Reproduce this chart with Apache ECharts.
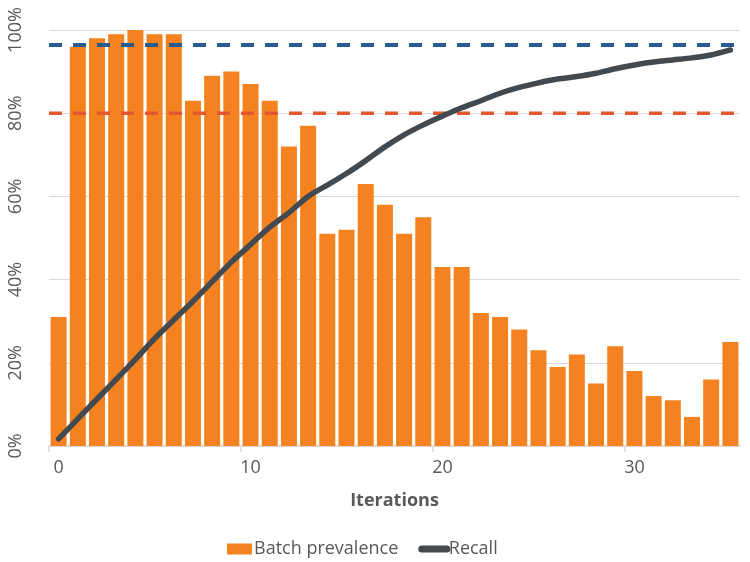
<!DOCTYPE html>
<html>
<head>
<meta charset="utf-8">
<script src="https://cdn.jsdelivr.net/npm/echarts@6/dist/echarts.min.js"></script>
<style>html,body{margin:0;padding:0;background:#fff}#c{width:750px;height:562px}</style>
</head>
<body>
<div id="c"></div>
<script>
// Iterations 0..35 (bars centred between integer ticks)
const iterations = [0,1,2,3,4,5,6,7,8,9,10,11,12,13,14,15,16,17,18,19,20,21,22,23,24,25,26,27,28,29,30,31,32,33,34,35];
// Batch prevalence (%)
const prevalence = [31,96,98,99,100,99,99,83,89,90,87,83,72,77,51,52,63,58,51,55,43,43,32,31,28,23,19,22,15,24,18,12,11,7,16,25];
// Recall (%)
const recall = [1.7,6.5,11.3,16,20.8,25.8,30.3,34.8,39.5,44.2,48.4,52.6,56.1,60.0,62.7,65.5,68.6,71.9,74.8,77.2,79.3,81.3,83.0,84.8,86.2,87.3,88.2,88.8,89.6,90.7,91.6,92.3,92.8,93.3,94.0,95.2];
// Reference thresholds (%)
const thresholdHigh = 96.4;
const thresholdLow = 80;
const xTicks = [0,10,20,30];

const font = '"Open Sans", "Noto Sans", sans-serif';
const grey = '#595959';

const chart = echarts.init(document.getElementById('c'), null, {renderer:'canvas'});
const barData = iterations.map((it,i)=>[it+0.5, prevalence[i]]);
const lineData = iterations.map((it,i)=>[it+0.5, recall[i]]);

chart.setOption({
  animation:false,
  textStyle:{fontFamily:font},
  grid:{left:49,right:10,top:30,bottom:116,containLabel:false},
  legend:{
    data:[{name:'Batch prevalence',icon:'rect'},
          {name:'Recall',itemStyle:{opacity:0},lineStyle:{width:7,cap:'round',color:'#434A4F'}}],
    left:222, top:535,
    itemWidth:25,itemHeight:11,itemGap:20,
    textStyle:{color:grey,fontSize:18,fontFamily:font,padding:[0,0,0,-3]}
  },
  xAxis:{
    type:'value',min:0,max:36,interval:10,
    name:'Iterations',nameLocation:'middle',nameGap:46,
    nameTextStyle:{color:grey,fontSize:18,fontWeight:'bold',fontFamily:font},
    axisLine:{show:true,lineStyle:{color:'#D9D9D9',width:1.5}},
    axisTick:{show:true,length:6,lineStyle:{color:'#D9D9D9',width:1.5},customValues:xTicks},
    axisLabel:{color:grey,fontSize:18,margin:13,fontFamily:font,
      customValues:xTicks.map(v=>v+0.5),formatter:v=>String(Math.round(v-0.5))},
    splitLine:{show:false}
  },
  yAxis:{
    type:'value',min:0,max:100,interval:20,
    axisLine:{show:false},axisTick:{show:false},
    axisLabel:{color:grey,fontSize:18,rotate:90,margin:24,fontFamily:font,formatter:v=>v+'%'},
    splitLine:{show:true,lineStyle:{color:'#D9D9D9',width:1}}
  },
  series:[
    {name:'Batch prevalence',type:'bar',data:barData,barWidth:16,
     itemStyle:{color:'#F58220'},z:2},
    {name:'High',type:'line',data:[[0,thresholdHigh],[36,thresholdHigh]],symbol:'none',silent:true,
     lineStyle:{color:'#2A5B8F',width:4,type:[13,11]},z:3},
    {name:'Low',type:'line',data:[[0,thresholdLow],[36,thresholdLow]],symbol:'none',silent:true,
     lineStyle:{color:'#E2572B',width:3.5,type:[13,11]},z:3},
    {name:'Recall',type:'line',data:lineData,symbol:'none',smooth:0.3,
     lineStyle:{color:'#434A4F',width:5.5,cap:'round',join:'round'},itemStyle:{color:'#434A4F'},z:4}
  ]
});
</script>
</body>
</html>
